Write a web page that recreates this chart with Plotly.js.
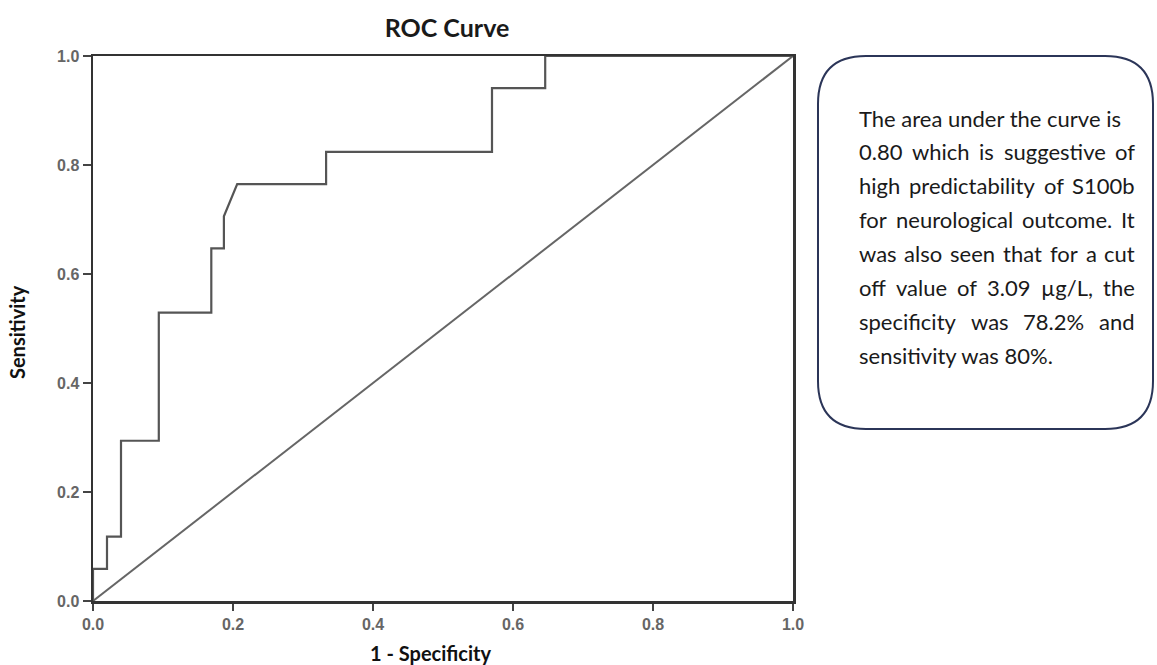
<!DOCTYPE html>
<html>
<head>
<meta charset="utf-8">
<script src="https://cdn.plot.ly/plotly-3.0.1.min.js"></script>
<style>html,body{margin:0;padding:0;background:#fff;}#chart{width:1157px;height:665px;}</style>
</head>
<body>
<div id="chart"></div>
<script>
// ---- data ----
var fpr = [0, 0, 0.02, 0.02, 0.04, 0.04, 0.094, 0.094, 0.169, 0.169, 0.187, 0.187, 0.206, 0.333, 0.333, 0.57, 0.57, 0.646, 0.646, 1];
var tpr = [0, 0.059, 0.059, 0.118, 0.118, 0.294, 0.294, 0.529, 0.529, 0.647, 0.647, 0.706, 0.765, 0.765, 0.824, 0.824, 0.941, 0.941, 1, 1];
var refX = [0, 1];
var refY = [0, 1];
var tickVals = [0, 0.2, 0.4, 0.6, 0.8, 1.0];
var tickText = ['0.0', '0.2', '0.4', '0.6', '0.8', '1.0'];
var titleText = 'ROC Curve';
var xTitle = '1 - Specificity';
var yTitle = 'Sensitivity';
var noteLines = [
  'The area under the curve is',
  '0.80 which is suggestive of',
  'high predictability of S100b',
  'for neurological outcome. It',
  'was also seen that for a cut',
  'off value of 3.09 \u00b5g/L, the',
  'specificity was 78.2% and',
  'sensitivity was 80%.'
];
var noteJustify = [false, true, true, true, true, true, true, false];

// ---- geometry (pixels) ----
var W = 1157, H = 665;
var L = 93, R = 793, T = 56, B = 601;
function px2x(p) { return (p - L) / (R - L); }
function px2y(p) { return (B - p) / (B - T); }

// rounded text box
var bx0 = 818, bx1 = 1153, by0 = 56, by1 = 429, rad = 48;
function P(x, y) { return px2x(x).toFixed(5) + ',' + px2y(y).toFixed(5); }
var boxPath = 'M' + P(bx0 + rad, by0) + ' L' + P(bx1 - rad, by0) +
  ' Q' + P(bx1, by0) + ' ' + P(bx1, by0 + rad) +
  ' L' + P(bx1, by1 - rad) +
  ' Q' + P(bx1, by1) + ' ' + P(bx1 - rad, by1) +
  ' L' + P(bx0 + rad, by1) +
  ' Q' + P(bx0, by1) + ' ' + P(bx0, by1 - rad) +
  ' L' + P(bx0, by0 + rad) +
  ' Q' + P(bx0, by0) + ' ' + P(bx0 + rad, by0) + ' Z';

// text annotations (justified lines are spread word by word)
var noteFont = {family: 'Lato, "Open Sans", sans-serif', size: 22, color: '#1a1a1a'};
var cvs = document.createElement('canvas').getContext('2d');
cvs.font = '22px Lato';
var textLeft = 857, textRight = 1133, line0 = 118, lineGap = 33.9;
var annotations = [];
noteLines.forEach(function (ln, i) {
  var yy = px2y(line0 + i * lineGap);
  if (!noteJustify[i]) {
    annotations.push({text: ln, xref: 'paper', yref: 'paper', x: px2x(textLeft), y: yy,
      xanchor: 'left', yanchor: 'middle', showarrow: false, font: noteFont});
  } else {
    var words = ln.split(' ');
    var widths = words.map(function (w) { return cvs.measureText(w).width; });
    var total = widths.reduce(function (a, b) { return a + b; }, 0);
    var gap = (textRight - textLeft - total) / (words.length - 1);
    var pos = textLeft;
    words.forEach(function (w, k) {
      annotations.push({text: w, xref: 'paper', yref: 'paper', x: px2x(pos), y: yy,
        xanchor: 'left', yanchor: 'middle', showarrow: false, font: noteFont});
      pos += widths[k] + gap;
    });
  }
});

var axTitleFont = {family: 'Lato, "Open Sans", sans-serif', size: 20, color: '#111', weight: 'bold'};
annotations.push({text: xTitle, xref: 'paper', yref: 'paper', x: px2x(430), y: px2y(653),
  xanchor: 'center', yanchor: 'middle', showarrow: false, font: axTitleFont});
annotations.push({text: yTitle, xref: 'paper', yref: 'paper', x: px2x(17), y: px2y(332),
  xanchor: 'center', yanchor: 'middle', showarrow: false, textangle: -90, font: axTitleFont});

var tickFont = {family: '"Liberation Sans", Arial, sans-serif', size: 16, color: '#666', weight: 'bold'};
function axis(len) {
  return {
    range: [0, 1], showgrid: false, zeroline: false,
    showline: true, linecolor: '#333', linewidth: 2.5, mirror: true,
    ticks: 'outside', ticklen: len, tickwidth: 2, tickcolor: '#444',
    tickvals: tickVals, ticktext: tickText, tickfont: tickFont, fixedrange: true
  };
}

var traces = [
  {x: refX, y: refY, type: 'scatter', mode: 'lines', line: {color: '#666', width: 2},
    cliponaxis: false, hoverinfo: 'skip', showlegend: false},
  {x: fpr, y: tpr, type: 'scatter', mode: 'lines', line: {color: '#555', width: 2.2},
    cliponaxis: false, showlegend: false}
];

var layout = {
  width: W, height: H,
  margin: {l: L, r: W - R, t: T, b: H - B, pad: 0},
  paper_bgcolor: '#fff', plot_bgcolor: '#fff',
  title: {text: titleText, xref: 'container', yref: 'container', x: 447 / W, y: 1 - 28 / H,
    xanchor: 'center', yanchor: 'middle',
    font: {family: 'Lato, "Open Sans", sans-serif', size: 25, color: '#1a1a1a', weight: 'bold'}},
  xaxis: axis(7),
  yaxis: axis(8),
  shapes: [{type: 'path', xref: 'paper', yref: 'paper', path: boxPath,
    line: {color: '#2b3558', width: 2}, fillcolor: 'rgba(0,0,0,0)', layer: 'above'}],
  annotations: annotations,
  showlegend: false
};

Plotly.newPlot('chart', traces, layout, {displayModeBar: false, staticPlot: true});
</script>
</body>
</html>
